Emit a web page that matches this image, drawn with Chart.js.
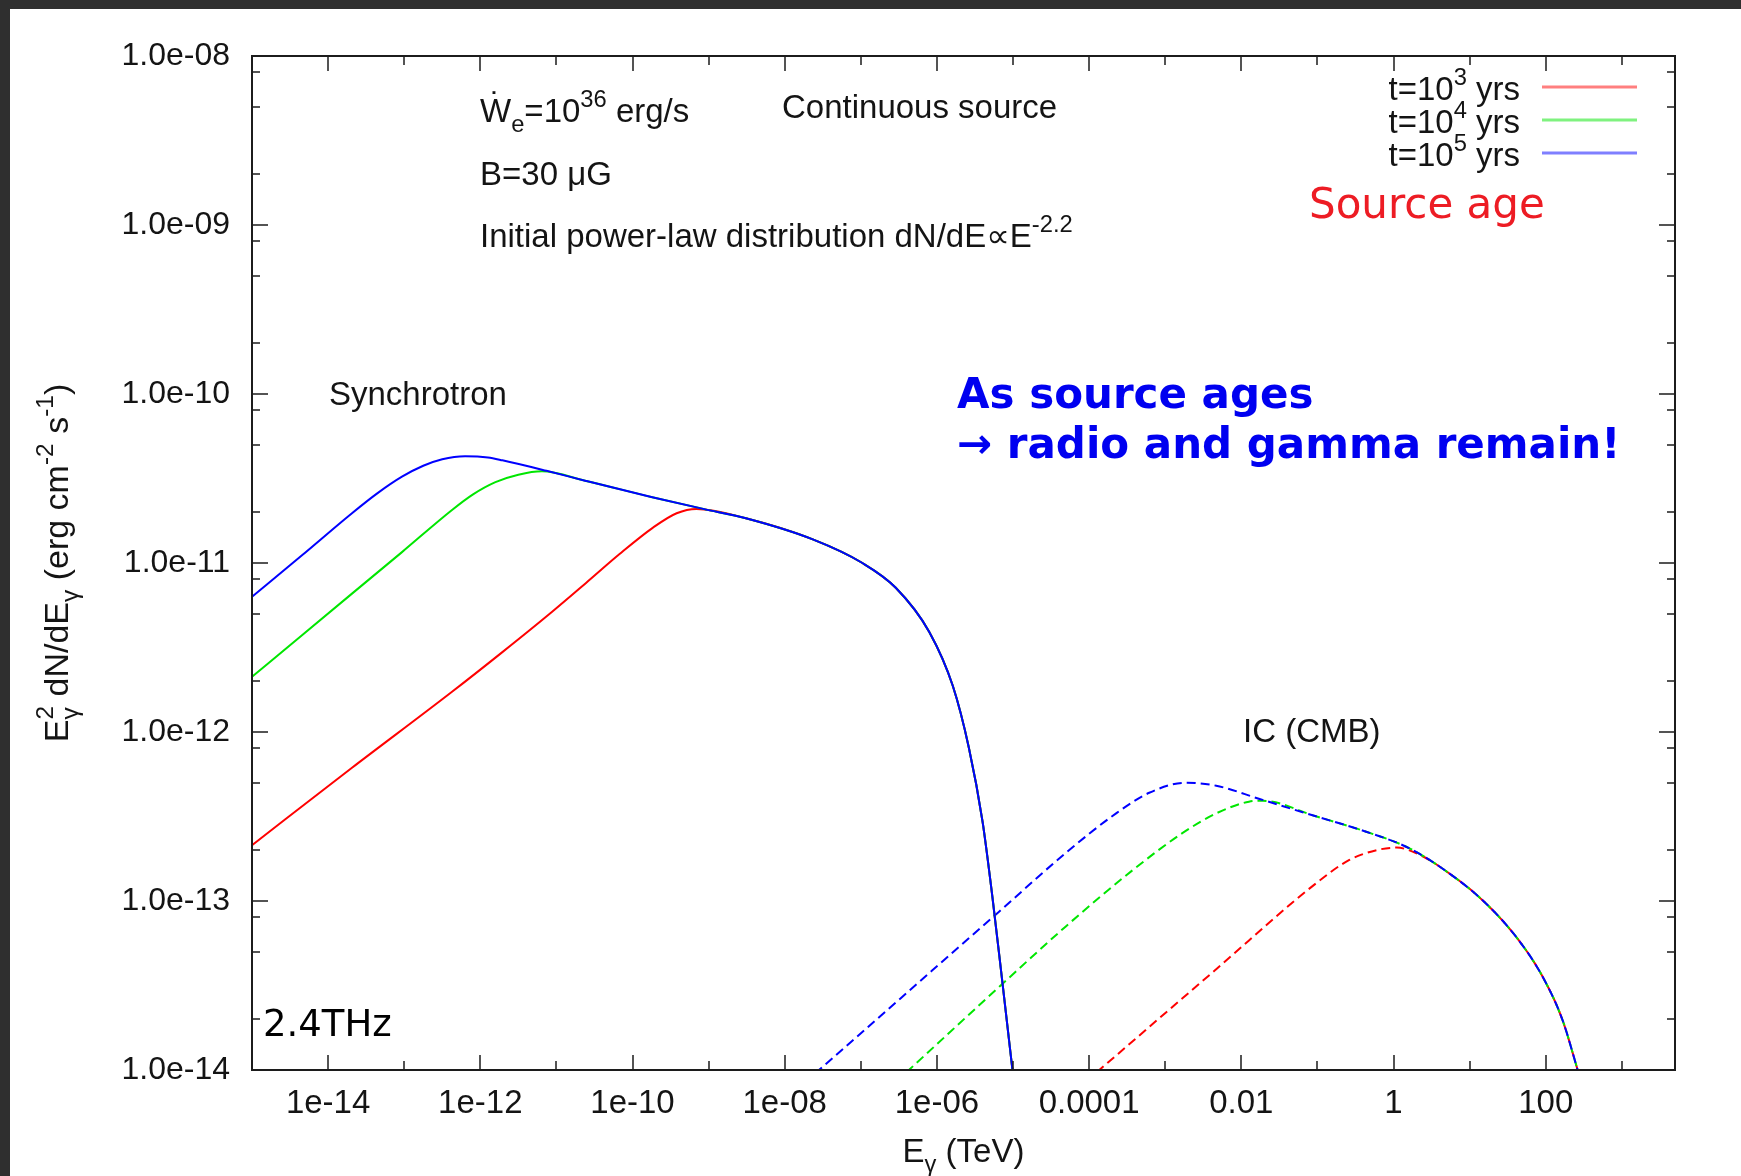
<!DOCTYPE html>
<html>
<head>
<meta charset="utf-8">
<title>Synchrotron and IC spectra of a continuous source</title>
<script src="https://cdn.jsdelivr.net/npm/chart.js@4.4.1/dist/chart.umd.min.js"></script>
<style>
  html, body { margin: 0; padding: 0; width: 1741px; height: 1176px; overflow: hidden; background: #2f2f2f; }
  #panel { position: absolute; left: 10px; top: 9px; width: 1731px; height: 1167px; background: #ffffff; }
  canvas { display: block; }
</style>
</head>
<body>
<div id="panel"><canvas id="sed" width="1731" height="1167"></canvas></div>
<script>
// Photon energy E (TeV) and E^2 dN/dE (erg cm^-2 s^-1)

// Synchrotron, t = 10^5 yrs
const synE_t5 = [1e-15, 4.54e-15, 2.06e-14, 4.47e-14, 9.35e-14, 1.78e-13, 3.16e-13, 6.31e-13, 1.26e-12, 1.95e-12,
                 7.41e-12, 2.45e-11, 1.82e-10, 8.51e-10, 3.09e-9, 2.34e-8, 1.05e-7, 2.88e-7, 7.94e-7, 1.62e-6,
                 2.63e-6, 3.98e-6, 5.37e-6, 7.08e-6, 9.84e-6, 1.07e-5];
const synF_t5 = [6.32e-12, 1.11e-11, 1.97e-11, 2.59e-11, 3.24e-11, 3.76e-11, 4.11e-11, 4.28e-11, 4.21e-11, 4.05e-11,
                 3.51e-11, 3.06e-11, 2.45e-11, 2.09e-11, 1.84e-11, 1.38e-11, 1.00e-11, 7.14e-12, 3.91e-12, 1.87e-12,
                 8.07e-13, 2.95e-13, 1.05e-13, 3.63e-14, 1.0e-14, 7.08e-15];

// Synchrotron, t = 10^4 yrs
const synE_t4 = [1e-15, 4.54e-15, 2.06e-14, 9.35e-14, 4.25e-13, 7.94e-13, 1.58e-12, 3.16e-12, 6.46e-12,
                 2.45e-11, 1.82e-10, 8.51e-10, 3.09e-9, 2.34e-8, 1.05e-7, 2.88e-7, 7.94e-7, 1.62e-6,
                 2.63e-6, 3.98e-6, 5.37e-6, 7.08e-6, 9.84e-6, 1.07e-5];
const synF_t4 = [2.12e-12, 3.74e-12, 6.59e-12, 1.16e-11, 2.06e-11, 2.54e-11, 3.01e-11, 3.33e-11, 3.49e-11,
                 3.06e-11, 2.45e-11, 2.09e-11, 1.84e-11, 1.38e-11, 1.00e-11, 7.14e-12, 3.91e-12, 1.87e-12,
                 8.07e-13, 2.95e-13, 1.05e-13, 3.63e-14, 1.0e-14, 7.08e-15];

// Synchrotron, t = 10^3 yrs
const synE_t3 = [1e-15, 2.06e-14, 4.25e-13, 1.95e-12, 8.71e-12, 2.45e-11, 6.76e-11, 1.86e-10, 3.80e-10, 6.92e-10,
                 3.09e-9, 2.34e-8, 1.05e-7, 2.88e-7, 7.94e-7, 1.62e-6, 2.63e-6, 3.98e-6, 5.37e-6, 7.08e-6,
                 9.84e-6, 1.07e-5];
const synF_t3 = [2.14e-13, 6.14e-13, 1.73e-12, 2.97e-12, 5.13e-12, 7.62e-12, 1.13e-11, 1.62e-11, 1.97e-11, 2.09e-11,
                 1.84e-11, 1.38e-11, 1.00e-11, 7.14e-12, 3.91e-12, 1.87e-12, 8.07e-13, 2.95e-13, 1.05e-13, 3.63e-14,
                 1.0e-14, 7.08e-15];

// Inverse Compton on the CMB, t = 10^5 yrs
const icE_t5 = [2.51e-8, 1.15e-7, 8.71e-7, 6.61e-6, 4.90e-5, 2.24e-4, 6.17e-4, 1.86e-3, 4.68e-3, 1.70e-2,
                9.55e-2, 0.437, 1.62, 5.37, 14.8, 40.7, 91.2, 166, 263, 295];
const icF_t5 = [9.55e-15, 1.74e-14, 3.89e-14, 8.67e-14, 1.92e-13, 3.29e-13, 4.37e-13, 5.01e-13, 4.81e-13, 4.03e-13,
                3.17e-13, 2.57e-13, 2.05e-13, 1.46e-13, 1.01e-13, 6.15e-14, 3.56e-14, 1.98e-14, 1.0e-14, 8.4e-15];

// Inverse Compton on the CMB, t = 10^4 yrs
const icE_t4 = [3.98e-7, 6.61e-6, 4.90e-5, 3.72e-4, 1.66e-3, 4.68e-3, 1.26e-2, 1.91e-2,
                9.55e-2, 0.437, 1.62, 5.37, 14.8, 40.7, 91.2, 166, 263, 295];
const icF_t4 = [9.7e-15, 3.11e-14, 7.05e-14, 1.52e-13, 2.51e-13, 3.30e-13, 3.87e-13, 3.92e-13,
                3.17e-13, 2.57e-13, 2.05e-13, 1.46e-13, 1.01e-13, 6.15e-14, 3.56e-14, 1.98e-14, 1.0e-14, 8.4e-15];

// Inverse Compton on the CMB, t = 10^3 yrs
const icE_t3 = [1.26e-4, 4.68e-3, 9.55e-2, 0.263, 0.603, 1.10, 2.24,
                5.37, 14.8, 40.7, 91.2, 166, 263, 295];
const icF_t3 = [9.7e-15, 3.95e-14, 1.27e-13, 1.75e-13, 2.00e-13, 2.07e-13, 1.87e-13,
                1.46e-13, 1.01e-13, 6.15e-14, 3.56e-14, 1.98e-14, 1.0e-14, 8.4e-15];

// Axes
const xTickValues = [1e-15, 1e-14, 1e-13, 1e-12, 1e-11, 1e-10, 1e-9, 1e-8, 1e-7, 1e-6,
                     1e-5, 1e-4, 1e-3, 1e-2, 1e-1, 1, 10, 100, 1000];
const xTickLabels = ['', '1e-14', '', '1e-12', '', '1e-10', '', '1e-08', '', '1e-06',
                     '', '0.0001', '', '0.01', '', '1', '', '100', ''];
const yTickValues = [1e-14, 1e-13, 1e-12, 1e-11, 1e-10, 1e-9, 1e-8];
const yTickLabels = ['1.0e-14', '1.0e-13', '1.0e-12', '1.0e-11', '1.0e-10', '1.0e-09', '1.0e-08'];
const yMinorMantissas = [2, 5, 8];

const ageLabels = ['3', '4', '5'];
const ageColors = ['#ff0000', '#00e600', '#0000ff'];

const SANS = "'Liberation Sans', Arial, 'DejaVu Sans', sans-serif";
const VERDANA = "'DejaVu Sans', Verdana, sans-serif";
const INK = '#141414';

const pairs = (xs, ys) => xs.map((v, i) => ({ x: v, y: ys[i] }));

function curve(label, xs, ys, color, dashed) {
  return {
    label,
    data: pairs(xs, ys),
    borderColor: color,
    borderWidth: 2,
    borderDash: dashed ? [9, 5] : [],
    pointRadius: 0,
    fill: false,
    cubicInterpolationMode: 'monotone'
  };
}

// Text made of runs: [text, kind, stacked]; kind 1 = superscript, -1 = subscript.
function drawRuns(ctx, runs, x, y, size, family, color, align, weight) {
  const w8 = weight || 'normal';
  const parts = [];
  let w = 0, stackX = null, stackW = 0;
  const shift = k => (k > 0 ? -0.45 * size : k < 0 ? 0.3 * size : 0);
  for (const r of runs) {
    const t = r[0], k = r[1] || 0, stack = !!r[2];
    const fs = k ? size * 0.72 : size;
    ctx.font = `${w8} ${fs}px ${family}`;
    const tw = ctx.measureText(t).width;
    if (stackX !== null) {
      parts.push({ t, fs, dx: stackX, dy: shift(k) });
      w = stackX + Math.max(stackW, tw);
      stackX = null;
    } else if (stack) {
      parts.push({ t, fs, dx: w, dy: shift(k) });
      stackX = w; stackW = tw;
    } else {
      parts.push({ t, fs, dx: w, dy: shift(k) });
      w += tw;
    }
  }
  const x0 = align === 'right' ? x - w : align === 'center' ? x - w / 2 : x;
  ctx.fillStyle = color;
  ctx.textAlign = 'left';
  ctx.textBaseline = 'alphabetic';
  for (const p of parts) {
    ctx.font = `${w8} ${p.fs}px ${family}`;
    ctx.fillText(p.t, x0 + p.dx, y + p.dy);
  }
  return w;
}

const frameAndTicks = {
  id: 'frameAndTicks',
  afterDatasetsDraw(chart) {
    const { ctx, chartArea: a, scales: { x, y } } = chart;
    ctx.save();
    ctx.strokeStyle = '#1c1c1c';
    ctx.lineWidth = 1.5;
    ctx.beginPath();
    xTickValues.forEach((v, i) => {
      const px = Math.round(x.getPixelForValue(v));
      const len = xTickLabels[i] ? 15 : 9;
      ctx.moveTo(px, a.bottom); ctx.lineTo(px, a.bottom - len);
      ctx.moveTo(px, a.top); ctx.lineTo(px, a.top + len);
    });
    yTickValues.forEach(v => {
      const py = Math.round(y.getPixelForValue(v));
      ctx.moveTo(a.left, py); ctx.lineTo(a.left + 16, py);
      ctx.moveTo(a.right, py); ctx.lineTo(a.right - 16, py);
      if (v < 1e-8) {
        yMinorMantissas.forEach(m => {
          const pm = Math.round(y.getPixelForValue(m * v));
          ctx.moveTo(a.left, pm); ctx.lineTo(a.left + 8, pm);
          ctx.moveTo(a.right, pm); ctx.lineTo(a.right - 8, pm);
        });
      }
    });
    ctx.stroke();
    ctx.lineWidth = 2;
    ctx.strokeRect(a.left, a.top, a.right - a.left, a.bottom - a.top);
    ctx.restore();
  },
  afterDraw(chart) {
    const { ctx, chartArea: a } = chart;
    ctx.save();

    // axis titles
    drawRuns(ctx, [['E'], ['γ', -1], [' (TeV)']], (a.left + a.right) / 2, 1153, 33, SANS, INK, 'center');
    ctx.save();
    ctx.translate(58, (a.top + a.bottom) / 2);
    ctx.rotate(-Math.PI / 2);
    drawRuns(ctx, [['E'], ['γ', -1, true], ['2', 1], [' dN/dE'], ['γ', -1], [' (erg cm'], ['-2', 1], [' s'], ['-1', 1], [')']],
      0, 0, 34, SANS, INK, 'center');
    ctx.restore();

    // model parameters
    drawRuns(ctx, [['W'], ['e', -1], ['=10'], ['36', 1], [' erg/s']], 470, 113, 33, SANS, INK, 'left');
    ctx.font = `33px ${SANS}`;
    const wGlyph = ctx.measureText('W').width;
    ctx.textAlign = 'center';
    ctx.fillText('˙', 470 + wGlyph / 2, 106);
    drawRuns(ctx, [['Continuous source']], 772, 109, 33, SANS, INK, 'left');
    drawRuns(ctx, [['B=30 μG']], 470, 176, 33, SANS, INK, 'left');
    drawRuns(ctx, [['Initial power-law distribution dN/dE∝E'], ['-2.2', 1]], 470, 238, 33, SANS, INK, 'left');

    // component labels
    drawRuns(ctx, [['Synchrotron']], 319, 396, 33, SANS, INK, 'left');
    drawRuns(ctx, [['IC (CMB)']], 1233, 733, 33, SANS, INK, 'left');

    // key
    const rowY = [78, 111, 144];
    ageLabels.forEach((p, i) => {
      drawRuns(ctx, [['t=10'], [p, 1], [' yrs']], 1510, rowY[i] + 13, 33, SANS, INK, 'right');
      ctx.strokeStyle = ageColors[i];
      ctx.globalAlpha = 0.5;
      ctx.lineWidth = 3;
      ctx.beginPath();
      ctx.moveTo(1532, rowY[i]); ctx.lineTo(1627, rowY[i]);
      ctx.stroke();
      ctx.globalAlpha = 1;
    });
    drawRuns(ctx, [['Source age']], 1299, 209, 42, VERDANA, '#ed1c24', 'left');

    // remarks
    drawRuns(ctx, [['As source ages']], 947, 399, 42, VERDANA, '#0000f0', 'left', 'bold');
    drawRuns(ctx, [['→ radio and gamma remain!']], 947, 449, 42, VERDANA, '#0000f0', 'left', 'bold');
    drawRuns(ctx, [['2.4THz']], 253, 1027, 37, VERDANA, '#000000', 'left');

    ctx.restore();
  }
};

new Chart(document.getElementById('sed'), {
  type: 'line',
  data: {
    datasets: [
      curve('Synchrotron t=1e5 yrs', synE_t5, synF_t5, ageColors[2], false),
      curve('Synchrotron t=1e4 yrs', synE_t4, synF_t4, ageColors[1], false),
      curve('Synchrotron t=1e3 yrs', synE_t3, synF_t3, ageColors[0], false),
      curve('IC t=1e5 yrs', icE_t5, icF_t5, ageColors[2], true),
      curve('IC t=1e4 yrs', icE_t4, icF_t4, ageColors[1], true),
      curve('IC t=1e3 yrs', icE_t3, icF_t3, ageColors[0], true)
    ]
  },
  options: {
    responsive: false,
    animation: false,
    events: [],
    layout: { padding: { left: 0, top: 47, right: 66, bottom: 0 } },
    plugins: { legend: { display: false }, tooltip: { enabled: false } },
    scales: {
      x: {
        type: 'logarithmic',
        position: 'bottom',
        min: 1e-15,
        max: 5e3,
        grid: { display: false, drawTicks: false },
        border: { display: false },
        afterBuildTicks: s => { s.ticks = xTickValues.map(v => ({ value: v })); },
        afterFit: s => { s.height = 106; },
        ticks: {
          autoSkip: false, maxRotation: 0, minRotation: 0, padding: 14, color: INK,
          font: { family: SANS, size: 33 },
          callback: (v, i) => xTickLabels[i]
        }
      },
      y: {
        type: 'logarithmic',
        position: 'left',
        min: 1e-14,
        max: 1e-8,
        grid: { display: false, drawTicks: false },
        border: { display: false },
        afterBuildTicks: s => { s.ticks = yTickValues.map(v => ({ value: v })); },
        afterFit: s => { s.width = 242; },
        ticks: {
          autoSkip: false, padding: 22, color: INK,
          font: { family: SANS, size: 32 },
          callback: (v, i) => yTickLabels[i]
        }
      }
    }
  },
  plugins: [frameAndTicks]
});
</script>
</body>
</html>
